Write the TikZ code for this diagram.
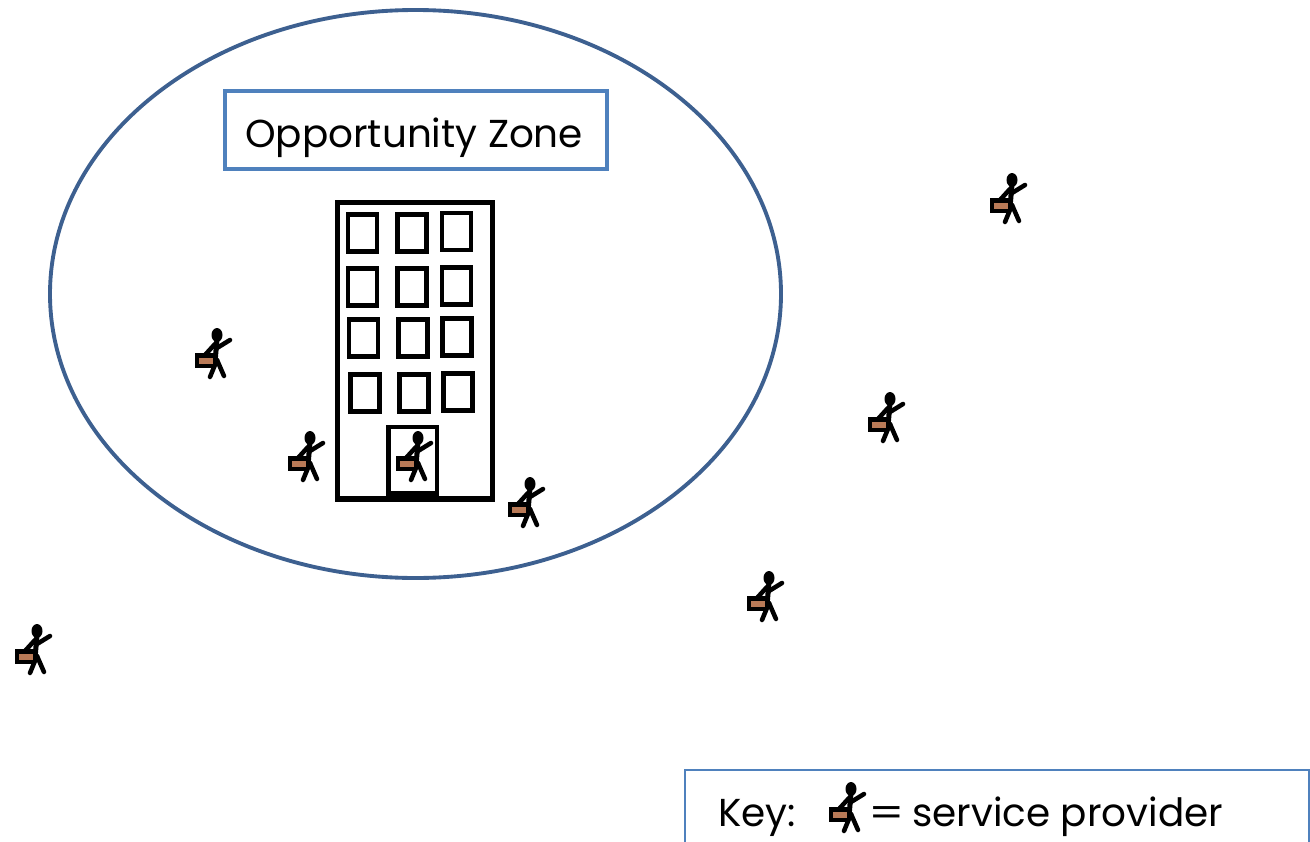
\documentclass[tikz,border=0pt]{standalone}
\usepackage{fontspec}
\setmainfont{Poppins}
\definecolor{zoneline}{HTML}{3D6090}
\definecolor{boxline}{HTML}{4F81BD}
\definecolor{casefill}{HTML}{B97A57}
\tikzset{
  x=0.75pt,y=-0.75pt,
  zone/.style={draw=zoneline,line width=2.9pt},
  labelbox/.style={draw=boxline,line width=2.7pt},
  keybox/.style={draw=boxline,line width=1.7pt},
  wall/.style={draw=black,line width=3.8pt},
  windowbox/.style={draw=black,line width=3.4pt},
  limb/.style={draw=black,line width=3.4pt,line cap=round},
  bigtext/.style={anchor=base west,inner sep=0pt,font=\fontsize{29.2}{31}\selectfont},
  provider/.pic={
    \fill[black] (0,0) ellipse (5.5 and 7);
    \draw[limb,line width=3.8pt] (0,4) -- (-2,27);
    \draw[limb] (0,13) -- (13,5);
    \draw[limb] (-2,9) -- (-12,20);
    \draw[limb] (0,25) -- (-7,42);
    \draw[limb] (0,25) -- (7,41);
    \fill[black] (-22,18) rectangle (-4,33);
    \fill[casefill] (-18,23) rectangle (-4,29);
  }
}
\newcommand{\win}[2]{\draw[windowbox] ({320+(#1)/3+2},{190+(#2)/3+2}) rectangle ++(29,37);}
\begin{document}
\begin{tikzpicture}
\useasboundingbox (0,0) rectangle (1310,842);
\draw[zone] (415.5,294) ellipse (365.5 and 284);
\draw[labelbox] (225,91) rectangle (607,169);
\node[bigtext] (zonelabel) at (245,147) {Opportunity Zone};
\draw[wall] (337.5,202.5) rectangle (492.5,499);
\foreach \a/\b in {78/67,226/67,360/63,78/230,226/230,360/226,81/382,229/382,362/379,85/547,233/547,365/544}{\win{\a}{\b}}
\draw[windowbox] (388.5,427) rectangle (437,493.5);
\foreach \p/\q in {1012/180,217/335,890/399,310/438,418/438,530/484,769/578,37/631,851/789}{\pic at (\p,\q) {provider};}
\draw[keybox] (685,842) -- (685,770) -- (1309,770) -- (1309,842);
\node[bigtext] (keytext) at (718,826) {Key:};
\node[bigtext,xscale=1.3] (keyequals) at (868,826) {=};
\node[bigtext] (keydesc) at (912,826) {service provider};
\end{tikzpicture}
\end{document}
